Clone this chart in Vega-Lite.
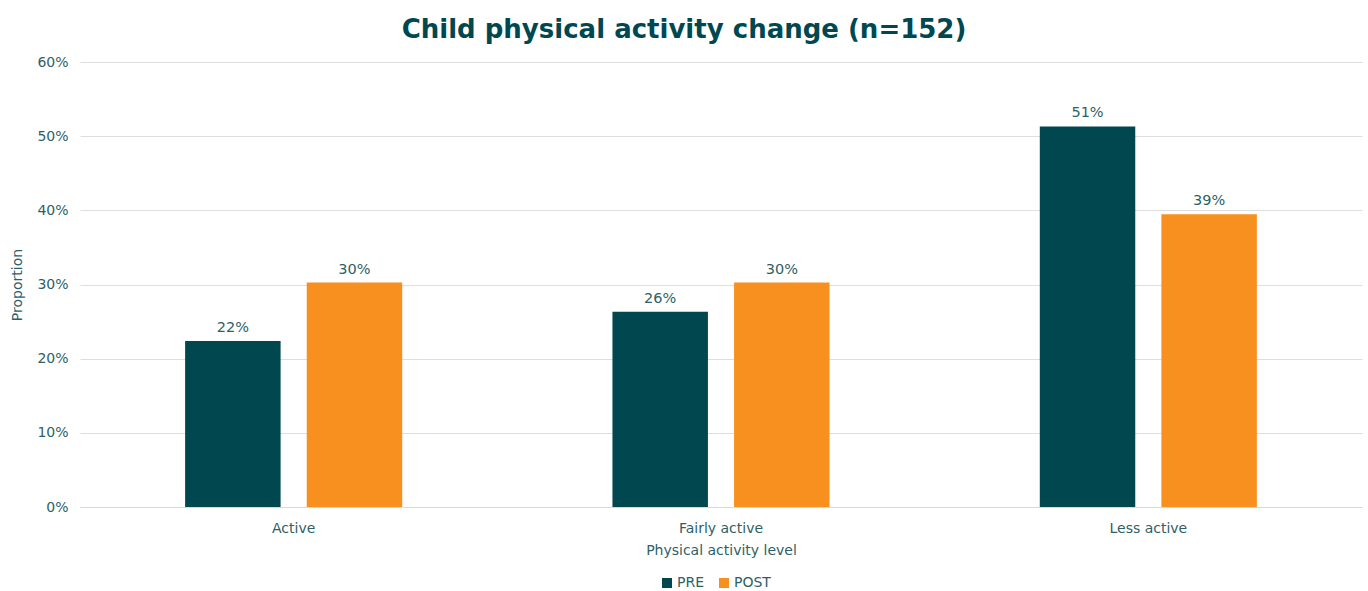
{
  "$schema": "https://vega.github.io/schema/vega-lite/v6.json",
  "width": 1282,
  "height": 445,
  "autosize": {"type": "none"},
  "padding": {"left": 80, "top": 62, "right": 6, "bottom": 84},
  "background": "white",
  "title": {
    "text": "Child physical activity change (n=152)",
    "font": "DejaVu Sans",
    "fontSize": 26,
    "fontWeight": "bold",
    "color": "#004851",
    "anchor": "middle",
    "dx": -37,
    "offset": 12
  },
  "config": {
    "font": "DejaVu Sans",
    "view": {"stroke": null},
    "axis": {"labelColor": "#2E5F66", "titleColor": "#2E5F66", "labelFont": "DejaVu Sans", "titleFont": "DejaVu Sans", "titleFontWeight": "normal"},
    "legend": {"labelColor": "#2E5F66", "labelFont": "DejaVu Sans"}
  },
  "data": {
    "values": [
      {"level": "Active", "time": "PRE", "value": 0.2237},
      {"level": "Active", "time": "POST", "value": 0.3026},
      {"level": "Fairly active", "time": "PRE", "value": 0.2632},
      {"level": "Fairly active", "time": "POST", "value": 0.3026},
      {"level": "Less active", "time": "PRE", "value": 0.5132},
      {"level": "Less active", "time": "POST", "value": 0.3947}
    ]
  },
  "encoding": {
    "x": {
      "field": "level",
      "type": "nominal",
      "sort": ["Active", "Fairly active", "Less active"],
      "scale": {"paddingInner": 0.492, "paddingOuter": 0.246},
      "axis": {
        "title": "Physical activity level",
        "labelAngle": 0,
        "labelFontSize": 14,
        "titleFontSize": 14,
        "labelPadding": 14,
        "titlePadding": 8,
        "ticks": false,
        "domainColor": "#D9D9D9",
        "domainWidth": 1
      }
    },
    "xOffset": {
      "field": "time",
      "type": "nominal",
      "sort": ["PRE", "POST"],
      "scale": {"paddingInner": 0.215, "paddingOuter": 0}
    },
    "y": {
      "field": "value",
      "type": "quantitative",
      "scale": {"domain": [0, 0.6]},
      "axis": {
        "title": "Proportion",
        "format": ".0%",
        "values": [0, 0.1, 0.2, 0.3, 0.4, 0.5, 0.6],
        "labelFontSize": 14,
        "titleFontSize": 14,
        "labelPadding": 12,
        "titlePadding": 12,
        "ticks": false,
        "domain": false,
        "gridColor": "#DEDEDE",
        "gridWidth": 1
      }
    }
  },
  "layer": [
    {
      "mark": {"type": "bar"},
      "encoding": {
        "color": {
          "field": "time",
          "type": "nominal",
          "sort": ["PRE", "POST"],
          "scale": {"domain": ["PRE", "POST"], "range": ["#00474F", "#F7901E"]},
          "legend": {
            "title": null,
            "orient": "none",
            "legendX": 580,
            "legendY": 514,
            "direction": "horizontal",
            "symbolType": "square",
            "symbolSize": 100,
            "labelFontSize": 14,
            "labelOffset": 3,
            "columnPadding": 12,
            "symbolStrokeWidth": 0,
            "symbolOpacity": 1
          }
        }
      }
    },
    {
      "mark": {"type": "text", "baseline": "bottom", "dy": -6, "fontSize": 14.5, "color": "#2E5F66"},
      "encoding": {
        "text": {"field": "value", "type": "quantitative", "format": ".0%"}
      }
    }
  ]
}
